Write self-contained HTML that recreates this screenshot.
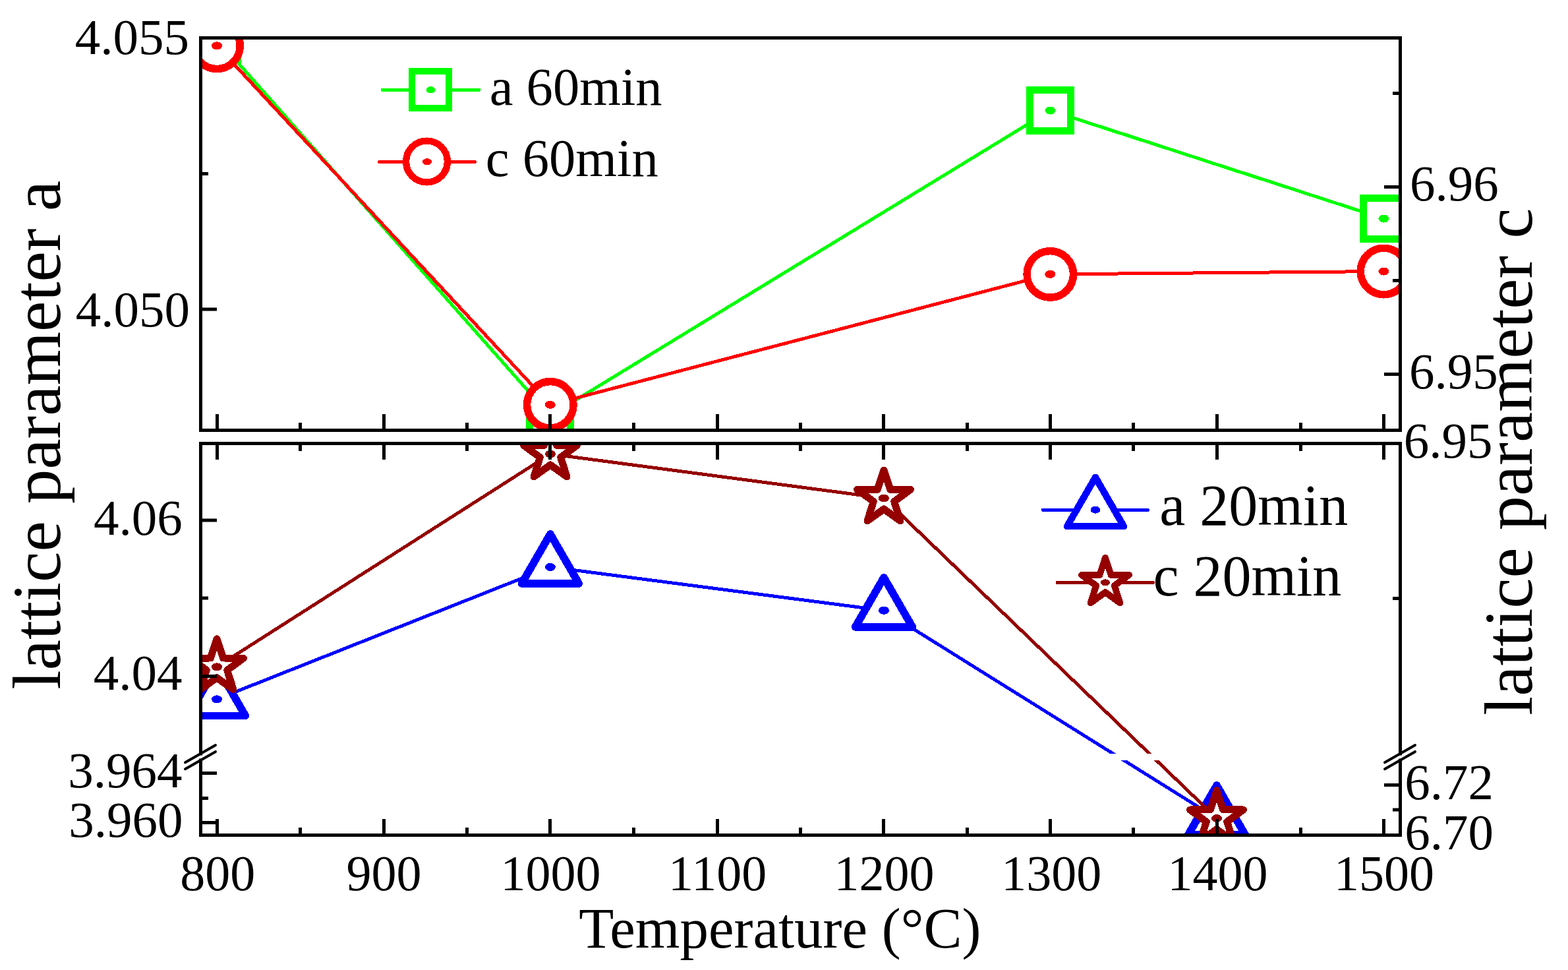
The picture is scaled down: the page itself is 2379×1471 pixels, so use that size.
<!DOCTYPE html>
<html><head><meta charset="utf-8"><title>Lattice parameters vs temperature</title>
<style>html,body{margin:0;padding:0;background:#fff;width:2379px;height:1471px;overflow:hidden}</style>
</head><body>
<svg width="2379" height="1471" viewBox="0 0 2379 1471" style="display:block">
<defs>
<clipPath id="cu"><rect x="304.5" y="57.5" width="1820.0" height="595.0"/></clipPath>
<clipPath id="cl"><rect x="304.5" y="672.5" width="1820.0" height="594.0"/></clipPath>
<clipPath id="cgap"><rect x="0" y="0" width="2379" height="1143.0"/><rect x="0" y="1153.0" width="2379" height="400"/></clipPath>
</defs>
<rect width="2379" height="1471" fill="#fff"/>
<g clip-path="url(#cu)" shape-rendering="crispEdges">
<polyline points="329.5,59.5 834.5,630.5 1593.5,167.5 2099.5,331.5" fill="none" stroke="#00ff00" stroke-width="5" stroke-linejoin="round" stroke-linecap="round"/>
<rect x="298.5" y="28.5" width="62.0" height="62.0" fill="#fff" stroke="#00ff00" stroke-width="11"/>
<ellipse cx="329.5" cy="59.5" rx="8" ry="6" fill="#00ff00"/>
<rect x="803.5" y="599.5" width="62.0" height="62.0" fill="#fff" stroke="#00ff00" stroke-width="11"/>
<ellipse cx="834.5" cy="630.5" rx="8" ry="6" fill="#00ff00"/>
<rect x="1562.5" y="136.5" width="62.0" height="62.0" fill="#fff" stroke="#00ff00" stroke-width="11"/>
<ellipse cx="1593.5" cy="167.5" rx="8" ry="6" fill="#00ff00"/>
<rect x="2068.5" y="300.5" width="62.0" height="62.0" fill="#fff" stroke="#00ff00" stroke-width="11"/>
<ellipse cx="2099.5" cy="331.5" rx="8" ry="6" fill="#00ff00"/>
<polyline points="329.0,69.3 834.8,613.8 1593.3,415.9 2099.5,411.5" fill="none" stroke="#ff0000" stroke-width="5" stroke-linejoin="round" stroke-linecap="round"/>
<circle cx="329.0" cy="69.3" r="35.25" fill="#fff" stroke="#ff0000" stroke-width="11.5"/>
<ellipse cx="329.0" cy="69.3" rx="8" ry="6" fill="#ff0000"/>
<circle cx="834.8" cy="613.8" r="35.25" fill="#fff" stroke="#ff0000" stroke-width="11.5"/>
<ellipse cx="834.8" cy="613.8" rx="8" ry="6" fill="#ff0000"/>
<circle cx="1593.3" cy="415.9" r="35.25" fill="#fff" stroke="#ff0000" stroke-width="11.5"/>
<ellipse cx="1593.3" cy="415.9" rx="8" ry="6" fill="#ff0000"/>
<circle cx="2099.5" cy="411.5" r="35.25" fill="#fff" stroke="#ff0000" stroke-width="11.5"/>
<ellipse cx="2099.5" cy="411.5" rx="8" ry="6" fill="#ff0000"/>
</g>
<g clip-path="url(#cl)" shape-rendering="crispEdges">
<g clip-path="url(#cgap)"><polyline points="329.0,1060.4 834.9,859.9 1341.0,925.8 1846.0,1241.0" fill="none" stroke="#0000ff" stroke-width="5" stroke-linejoin="round" stroke-linecap="round"/></g>
<polygon points="329.0,1010.4 372.3,1085.4 285.7,1085.4" fill="#fff" stroke="#0000ff" stroke-width="11.7" stroke-linejoin="round"/>
<ellipse cx="329.0" cy="1060.4" rx="8" ry="6" fill="#0000ff"/>
<polygon points="834.9,809.9 878.2,884.9 791.6,884.9" fill="#fff" stroke="#0000ff" stroke-width="11.7" stroke-linejoin="round"/>
<ellipse cx="834.9" cy="859.9" rx="8" ry="6" fill="#0000ff"/>
<polygon points="1341.0,875.8 1384.3,950.8 1297.7,950.8" fill="#fff" stroke="#0000ff" stroke-width="11.7" stroke-linejoin="round"/>
<ellipse cx="1341.0" cy="925.8" rx="8" ry="6" fill="#0000ff"/>
<polygon points="1846.0,1191.0 1889.3,1266.0 1802.7,1266.0" fill="#fff" stroke="#0000ff" stroke-width="11.7" stroke-linejoin="round"/>
<ellipse cx="1846.0" cy="1241.0" rx="8" ry="6" fill="#0000ff"/>
<g clip-path="url(#cgap)"><polyline points="329.0,1011.3 835.0,688.5 1341.0,755.5 1846.0,1241.1" fill="none" stroke="#950000" stroke-width="5" stroke-linejoin="round" stroke-linecap="round"/></g>
<polygon points="329.0,968.8 338.7,998.0 369.4,998.2 344.7,1016.4 354.0,1045.7 329.0,1027.8 304.0,1045.7 313.3,1016.4 288.6,998.2 319.3,998.0" fill="#fff" stroke="#950000" stroke-width="11" stroke-linejoin="round"/>
<ellipse cx="329.0" cy="1011.3" rx="8" ry="6" fill="#950000"/>
<polygon points="835.0,646.0 844.7,675.2 875.4,675.4 850.7,693.6 860.0,722.9 835.0,705.0 810.0,722.9 819.3,693.6 794.6,675.4 825.3,675.2" fill="#fff" stroke="#950000" stroke-width="11" stroke-linejoin="round"/>
<ellipse cx="835.0" cy="688.5" rx="8" ry="6" fill="#950000"/>
<polygon points="1341.0,713.0 1350.7,742.2 1381.4,742.4 1356.7,760.6 1366.0,789.9 1341.0,772.0 1316.0,789.9 1325.3,760.6 1300.6,742.4 1331.3,742.2" fill="#fff" stroke="#950000" stroke-width="11" stroke-linejoin="round"/>
<ellipse cx="1341.0" cy="755.5" rx="8" ry="6" fill="#950000"/>
<polygon points="1846.0,1198.6 1855.7,1227.8 1886.4,1228.0 1861.7,1246.2 1871.0,1275.5 1846.0,1257.6 1821.0,1275.5 1830.3,1246.2 1805.6,1228.0 1836.3,1227.8" fill="#fff" stroke="#950000" stroke-width="11" stroke-linejoin="round"/>
<ellipse cx="1846.0" cy="1241.1" rx="8" ry="6" fill="#950000"/>
</g>
<g>
<line x1="302.0" y1="57.5" x2="2127.0" y2="57.5" stroke="#000" stroke-width="5"/>
<line x1="302.0" y1="652.5" x2="2127.0" y2="652.5" stroke="#000" stroke-width="5"/>
<line x1="304.5" y1="55.0" x2="304.5" y2="655.0" stroke="#000" stroke-width="5"/>
<line x1="2124.5" y1="55.0" x2="2124.5" y2="655.0" stroke="#000" stroke-width="5"/>
<line x1="302.0" y1="672.5" x2="2127.0" y2="672.5" stroke="#000" stroke-width="5"/>
<line x1="302.0" y1="1266.5" x2="2127.0" y2="1266.5" stroke="#000" stroke-width="5"/>
<line x1="304.5" y1="670.0" x2="304.5" y2="1145.5" stroke="#000" stroke-width="5"/>
<line x1="304.5" y1="1150.5" x2="304.5" y2="1269.0" stroke="#000" stroke-width="5"/>
<line x1="2124.5" y1="670.0" x2="2124.5" y2="1145.5" stroke="#000" stroke-width="5"/>
<line x1="2124.5" y1="1150.5" x2="2124.5" y2="1269.0" stroke="#000" stroke-width="5"/>
<line x1="329.5" y1="628.0" x2="329.5" y2="650.0" stroke="#000" stroke-width="5"/>
<line x1="329.5" y1="675.0" x2="329.5" y2="697.0" stroke="#000" stroke-width="5"/>
<line x1="329.5" y1="1242.0" x2="329.5" y2="1264.0" stroke="#000" stroke-width="5"/>
<line x1="455.5" y1="641.0" x2="455.5" y2="650.0" stroke="#000" stroke-width="5"/>
<line x1="455.5" y1="675.0" x2="455.5" y2="684.0" stroke="#000" stroke-width="5"/>
<line x1="455.5" y1="1255.0" x2="455.5" y2="1264.0" stroke="#000" stroke-width="5"/>
<line x1="582.5" y1="628.0" x2="582.5" y2="650.0" stroke="#000" stroke-width="5"/>
<line x1="582.5" y1="675.0" x2="582.5" y2="697.0" stroke="#000" stroke-width="5"/>
<line x1="582.5" y1="1242.0" x2="582.5" y2="1264.0" stroke="#000" stroke-width="5"/>
<line x1="708.5" y1="641.0" x2="708.5" y2="650.0" stroke="#000" stroke-width="5"/>
<line x1="708.5" y1="675.0" x2="708.5" y2="684.0" stroke="#000" stroke-width="5"/>
<line x1="708.5" y1="1255.0" x2="708.5" y2="1264.0" stroke="#000" stroke-width="5"/>
<line x1="834.5" y1="628.0" x2="834.5" y2="650.0" stroke="#000" stroke-width="5"/>
<line x1="834.5" y1="675.0" x2="834.5" y2="697.0" stroke="#000" stroke-width="5"/>
<line x1="834.5" y1="1242.0" x2="834.5" y2="1264.0" stroke="#000" stroke-width="5"/>
<line x1="961.5" y1="641.0" x2="961.5" y2="650.0" stroke="#000" stroke-width="5"/>
<line x1="961.5" y1="675.0" x2="961.5" y2="684.0" stroke="#000" stroke-width="5"/>
<line x1="961.5" y1="1255.0" x2="961.5" y2="1264.0" stroke="#000" stroke-width="5"/>
<line x1="1088.5" y1="628.0" x2="1088.5" y2="650.0" stroke="#000" stroke-width="5"/>
<line x1="1088.5" y1="675.0" x2="1088.5" y2="697.0" stroke="#000" stroke-width="5"/>
<line x1="1088.5" y1="1242.0" x2="1088.5" y2="1264.0" stroke="#000" stroke-width="5"/>
<line x1="1214.5" y1="641.0" x2="1214.5" y2="650.0" stroke="#000" stroke-width="5"/>
<line x1="1214.5" y1="675.0" x2="1214.5" y2="684.0" stroke="#000" stroke-width="5"/>
<line x1="1214.5" y1="1255.0" x2="1214.5" y2="1264.0" stroke="#000" stroke-width="5"/>
<line x1="1340.5" y1="628.0" x2="1340.5" y2="650.0" stroke="#000" stroke-width="5"/>
<line x1="1340.5" y1="675.0" x2="1340.5" y2="697.0" stroke="#000" stroke-width="5"/>
<line x1="1340.5" y1="1242.0" x2="1340.5" y2="1264.0" stroke="#000" stroke-width="5"/>
<line x1="1467.5" y1="641.0" x2="1467.5" y2="650.0" stroke="#000" stroke-width="5"/>
<line x1="1467.5" y1="675.0" x2="1467.5" y2="684.0" stroke="#000" stroke-width="5"/>
<line x1="1467.5" y1="1255.0" x2="1467.5" y2="1264.0" stroke="#000" stroke-width="5"/>
<line x1="1593.5" y1="628.0" x2="1593.5" y2="650.0" stroke="#000" stroke-width="5"/>
<line x1="1593.5" y1="675.0" x2="1593.5" y2="697.0" stroke="#000" stroke-width="5"/>
<line x1="1593.5" y1="1242.0" x2="1593.5" y2="1264.0" stroke="#000" stroke-width="5"/>
<line x1="1719.5" y1="641.0" x2="1719.5" y2="650.0" stroke="#000" stroke-width="5"/>
<line x1="1719.5" y1="675.0" x2="1719.5" y2="684.0" stroke="#000" stroke-width="5"/>
<line x1="1719.5" y1="1255.0" x2="1719.5" y2="1264.0" stroke="#000" stroke-width="5"/>
<line x1="1846.5" y1="628.0" x2="1846.5" y2="650.0" stroke="#000" stroke-width="5"/>
<line x1="1846.5" y1="675.0" x2="1846.5" y2="697.0" stroke="#000" stroke-width="5"/>
<line x1="1846.5" y1="1242.0" x2="1846.5" y2="1264.0" stroke="#000" stroke-width="5"/>
<line x1="1973.5" y1="641.0" x2="1973.5" y2="650.0" stroke="#000" stroke-width="5"/>
<line x1="1973.5" y1="675.0" x2="1973.5" y2="684.0" stroke="#000" stroke-width="5"/>
<line x1="1973.5" y1="1255.0" x2="1973.5" y2="1264.0" stroke="#000" stroke-width="5"/>
<line x1="2099.5" y1="628.0" x2="2099.5" y2="650.0" stroke="#000" stroke-width="5"/>
<line x1="2099.5" y1="675.0" x2="2099.5" y2="697.0" stroke="#000" stroke-width="5"/>
<line x1="2099.5" y1="1242.0" x2="2099.5" y2="1264.0" stroke="#000" stroke-width="5"/>
<line x1="307.0" y1="263.5" x2="316.0" y2="263.5" stroke="#000" stroke-width="5"/>
<line x1="307.0" y1="469.0" x2="329.0" y2="469.0" stroke="#000" stroke-width="5"/>
<line x1="307.0" y1="789.0" x2="329.0" y2="789.0" stroke="#000" stroke-width="5"/>
<line x1="307.0" y1="907.0" x2="316.0" y2="907.0" stroke="#000" stroke-width="5"/>
<line x1="307.0" y1="1025.5" x2="329.0" y2="1025.5" stroke="#000" stroke-width="5"/>
<line x1="307.0" y1="1172.5" x2="329.0" y2="1172.5" stroke="#000" stroke-width="5"/>
<line x1="307.0" y1="1210.5" x2="316.0" y2="1210.5" stroke="#000" stroke-width="5"/>
<line x1="307.0" y1="1247.5" x2="329.0" y2="1247.5" stroke="#000" stroke-width="5"/>
<line x1="2113.0" y1="141.5" x2="2122.0" y2="141.5" stroke="#000" stroke-width="5"/>
<line x1="2100.0" y1="283.5" x2="2122.0" y2="283.5" stroke="#000" stroke-width="5"/>
<line x1="2113.0" y1="425.5" x2="2122.0" y2="425.5" stroke="#000" stroke-width="5"/>
<line x1="2100.0" y1="567.5" x2="2122.0" y2="567.5" stroke="#000" stroke-width="5"/>
<line x1="2113.0" y1="907.5" x2="2122.0" y2="907.5" stroke="#000" stroke-width="5"/>
<line x1="2100.0" y1="1190.5" x2="2122.0" y2="1190.5" stroke="#000" stroke-width="5"/>
<line x1="2113.0" y1="1228.0" x2="2122.0" y2="1228.0" stroke="#000" stroke-width="5"/>
<line x1="281" y1="1156.3" x2="327" y2="1130.0" stroke="#000" stroke-width="4" stroke-linecap="round"/>
<line x1="281" y1="1166.2" x2="327" y2="1139.9" stroke="#000" stroke-width="4" stroke-linecap="round"/>
<line x1="2101" y1="1156.3" x2="2147" y2="1130.0" stroke="#000" stroke-width="4" stroke-linecap="round"/>
<line x1="2101" y1="1166.2" x2="2147" y2="1139.9" stroke="#000" stroke-width="4" stroke-linecap="round"/>
</g>
<g shape-rendering="crispEdges">
<line x1="580.3" y1="136.4" x2="726.7" y2="136.4" stroke="#00ff00" stroke-width="5" stroke-linecap="round"/>
<rect x="625.0" y="108.0" width="56.0" height="56.0" fill="#fff" stroke="#00ff00" stroke-width="10"/>
<ellipse cx="653.5" cy="136.2" rx="7" ry="5" fill="#00ff00"/>
<line x1="575.5" y1="245.3" x2="720.5" y2="245.3" stroke="#ff0000" stroke-width="5" stroke-linecap="round"/>
<circle cx="647.5" cy="245.0" r="31.4" fill="#fff" stroke="#ff0000" stroke-width="10.3"/>
<ellipse cx="648.0" cy="245.3" rx="7" ry="5" fill="#ff0000"/>
<line x1="1582" y1="773.2" x2="1741.5" y2="773.2" stroke="#0000ff" stroke-width="5" stroke-linecap="round"/>
<polygon points="1662.0,723.8 1705.0,798.2 1619.0,798.2" fill="#fff" stroke="#0000ff" stroke-width="10.4" stroke-linejoin="round"/>
<ellipse cx="1662.0" cy="773.2" rx="7.5" ry="5.5" fill="#0000ff"/>
<line x1="1604" y1="883.6" x2="1749.5" y2="883.6" stroke="#950000" stroke-width="5" stroke-linecap="round"/>
<polygon points="1677.0,845.8 1685.6,871.8 1712.9,871.9 1690.9,888.1 1699.2,914.2 1677.0,898.2 1654.8,914.2 1663.1,888.1 1641.1,871.9 1668.4,871.8" fill="#fff" stroke="#950000" stroke-width="10" stroke-linejoin="round"/>
<ellipse cx="1677.0" cy="883.4" rx="7" ry="5" fill="#950000"/>
</g>
<g font-family='"Liberation Serif", "Times New Roman", serif' fill="#000">
<text x="286.9" y="81.9" font-size="77" text-anchor="end">4.055</text>
<text x="288.0" y="494.9" font-size="77" text-anchor="end">4.050</text>
<text x="276.7" y="811.2" font-size="77" text-anchor="end">4.06</text>
<text x="276.4" y="1046.2" font-size="77" text-anchor="end">4.04</text>
<text x="276.4" y="1193.5" font-size="77" text-anchor="end">3.964</text>
<text x="277.4" y="1269.0" font-size="77" text-anchor="end">3.960</text>
<text x="2139.1" y="304.4" font-size="77" text-anchor="start">6.96</text>
<text x="2138.1" y="588.5" font-size="77" text-anchor="start">6.95</text>
<text x="2129.8" y="693.5" font-size="77" text-anchor="start">6.95</text>
<text x="2131.2" y="1211.5" font-size="77" text-anchor="start">6.72</text>
<text x="2131.2" y="1288.0" font-size="77" text-anchor="start">6.70</text>
<text x="330.3" y="1350.0" font-size="76" text-anchor="middle">800</text>
<text x="582.5" y="1350.0" font-size="76" text-anchor="middle">900</text>
<text x="835.6" y="1349.5" font-size="76" text-anchor="middle">1000</text>
<text x="1088.7" y="1350.0" font-size="76" text-anchor="middle">1100</text>
<text x="1341.4" y="1350.0" font-size="76" text-anchor="middle">1200</text>
<text x="1595.2" y="1350.0" font-size="76" text-anchor="middle">1300</text>
<text x="1847.4" y="1349.5" font-size="76" text-anchor="middle">1400</text>
<text x="2099.9" y="1349.5" font-size="76" text-anchor="middle">1500</text>
<text x="742.7" y="158.6" font-size="80.6" text-anchor="start">a 60min</text>
<text x="736.8" y="266.5" font-size="80.6" text-anchor="start">c 60min</text>
<text x="1759.2" y="796.0" font-size="88" text-anchor="start">a 20min</text>
<text x="1749.4" y="903.0" font-size="88" text-anchor="start">c 20min</text>
<text x="878.3" y="1436.8" font-size="86.9" text-anchor="start">Temperature (°C)</text>
<text transform="translate(90.5,1045.5) rotate(-90)" font-size="104.5" text-anchor="start">lattice parameter a</text>
<text transform="translate(2323.8,1084.7) rotate(-90)" font-size="104.2" text-anchor="start">lattice parameter c</text>
</g>
</svg>
</body></html>
